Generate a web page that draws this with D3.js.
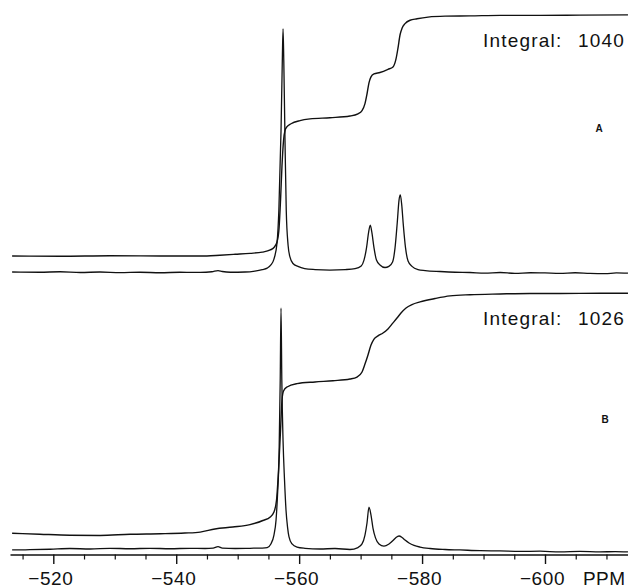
<!DOCTYPE html>
<html>
<head>
<meta charset="utf-8">
<script src="https://cdn.jsdelivr.net/npm/d3@7"></script>
<style>
  html, body { margin: 0; padding: 0; background: #fff; }
  #chart { width: 628px; height: 588px; }
  text { font-family: "Liberation Sans", Arial, sans-serif; fill: #111; }
</style>
</head>
<body>
<div id="chart"></div>
<script>
'use strict';

// ppm axis
const MAJOR_TICKS = [-520, -540, -560, -580, -600];
const MINOR_TICKS = [-515, -525, -530, -535, -545, -550, -555, -565, -570, -575, -585, -590, -595, -605, -610];

// [ppm, intensity], main peak = 100
const spectrumA = [
  [-513.3, 0.0], [-517.8, -0.1], [-521.1, 0.1], [-524.4, -0.2], [-527.6, 0.0], [-530.9, -0.25],
  [-534.1, -0.1], [-537.4, -0.3], [-540.6, -0.1], [-543.9, -0.15], [-545.8, 0.1], [-546.8, 0.6],
  [-547.5, 0.2], [-548.8, -0.1], [-551.2, 0.0], [-552.8, 0.4], [-554.0, 1.0], [-554.8, 1.6],
  [-555.4, 2.9], [-555.9, 5.3], [-556.4, 12], [-556.7, 25.5], [-557.05, 58], [-557.26, 87],
  [-557.38, 100], [-557.5, 87], [-557.7, 54], [-557.9, 25.5], [-558.2, 11], [-558.5, 6.2],
  [-559.0, 3.5], [-559.8, 2.3], [-560.9, 1.4], [-562.6, 1.0], [-565.0, 0.8], [-567.5, 1.0],
  [-569.1, 1.4], [-570.1, 2.5], [-570.55, 4.9], [-570.96, 9.9], [-571.28, 16], [-571.57, 19.3],
  [-571.85, 16], [-572.18, 9.9], [-572.58, 4.9], [-573.15, 2.9], [-573.97, 1.85], [-574.6, 2.3],
  [-575.2, 4.1], [-575.6, 9.9], [-575.97, 20.6], [-576.25, 29.6], [-576.46, 31.7], [-576.69, 27.6],
  [-576.95, 19.3], [-577.31, 9.9], [-577.72, 4.5], [-578.36, 2.3], [-579.34, 1.0], [-580.5, 0.6],
  [-582.9, 0.2], [-585.4, -0.1], [-587.8, -0.2], [-590.2, -0.5], [-592.7, -0.2], [-595.1, -0.6],
  [-597.6, -0.3], [-600.0, -0.4], [-602.4, -0.6], [-604.9, -0.3], [-607.3, -0.6], [-609.8, -0.7],
  [-611.6, -0.4], [-613.5, -0.5],
];

const integralA = [
  [-513.3, 0.0], [-521.1, -0.1], [-529.2, 0.1], [-537.4, 0.0], [-545.0, 0.0], [-547.1, 0.3],
  [-549.6, 0.7], [-552.0, 1.1], [-554.0, 1.6], [-555.3, 2.5], [-555.9, 3.5], [-556.4, 5.8],
  [-556.73, 11.5], [-556.97, 23], [-557.21, 37.4], [-557.46, 47.7], [-557.7, 51.9], [-558.03, 53.5],
  [-558.68, 54.7], [-560.14, 56], [-561.77, 56.7], [-565.02, 57.2], [-568.27, 57.9], [-569.57, 58.8],
  [-570.23, 60.1], [-570.71, 63], [-571.04, 67], [-571.36, 71.6], [-571.69, 74.1], [-572.18, 75.3],
  [-573.15, 75.9], [-574.45, 77.2], [-575.27, 78.2], [-575.76, 81.5], [-576.08, 86], [-576.41, 91.4],
  [-576.74, 94.2], [-577.23, 96.1], [-578.04, 97.5], [-579.18, 98.1], [-580.97, 98.8], [-583.74, 99.2],
  [-587.8, 99.3], [-592.7, 99.5], [-599.2, 99.5], [-605.7, 99.6], [-613.5, 99.7],
];

const spectrumB = [
  [-513.3, -0.4], [-516.2, -0.3], [-519.5, -0.1], [-522.7, 0.2], [-526.0, 0.0], [-529.2, 0.3],
  [-532.5, 0.1], [-535.7, 0.3], [-539.0, 0.1], [-542.2, 0.3], [-544.7, 0.2], [-546.0, 0.4],
  [-546.8, 1.0], [-547.5, 0.4], [-549.6, 0.2], [-552.0, 0.3], [-554.0, 0.4], [-554.8, 0.6],
  [-555.4, 2.1], [-555.9, 5.8], [-556.24, 12], [-556.48, 22.4], [-556.73, 39], [-556.92, 70],
  [-557.05, 100], [-557.18, 70], [-557.38, 45], [-557.62, 28.6], [-557.86, 16.2], [-558.11, 9.1],
  [-558.35, 5.0], [-558.84, 2.1], [-559.65, 0.8], [-560.95, 0.3], [-563.39, 0.0], [-565.83, 0.2],
  [-568.27, -0.2], [-569.57, 0.6], [-570.23, 2.1], [-570.71, 5.8], [-571.04, 10.8], [-571.36, 17.4],
  [-571.69, 14.1], [-572.01, 8.7], [-572.42, 4.6], [-572.99, 2.1], [-573.8, 1.2], [-574.62, 2.1],
  [-575.27, 3.5], [-575.76, 4.8], [-576.25, 5.4], [-576.74, 4.8], [-577.23, 3.7], [-577.88, 2.5],
  [-578.69, 1.5], [-579.67, 0.8], [-581.3, 0.2], [-583.74, -0.2], [-586.17, -0.4], [-589.42, -0.7],
  [-592.68, -0.8], [-595.93, -1.0], [-599.19, -0.9], [-602.44, -1.2], [-605.69, -1.0], [-608.95, -1.2],
  [-611.39, -1.1], [-613.5, -1.2],
];

const integralB = [
  [-513.3, 0.3], [-517.8, -0.1], [-522.7, -0.5], [-527.6, -0.6], [-532.5, -0.1], [-537.4, 0.1],
  [-541.4, 0.4], [-543.9, 0.8], [-546.3, 2.1], [-549.2, 2.9], [-552.0, 3.9], [-554.1, 5.6],
  [-555.3, 7.1], [-555.9, 9.1], [-556.32, 14.1], [-556.65, 26.6], [-556.97, 43], [-557.21, 55.6],
  [-557.46, 59.3], [-558.03, 61], [-559.65, 62.4], [-562.58, 63.1], [-565.51, 63.6], [-568.27, 64.3],
  [-569.41, 65.1], [-570.23, 67.2], [-570.71, 70.5], [-571.2, 74.3], [-571.69, 78.4], [-572.18, 80.9],
  [-572.83, 82.2], [-573.64, 83.4], [-574.45, 85.1], [-575.27, 87.6], [-575.92, 89.6], [-576.57, 91.7],
  [-577.39, 93.8], [-578.36, 95.2], [-579.67, 96.3], [-582.1, 97.7], [-584.55, 98.8], [-587.8, 99.3],
  [-592.68, 99.6], [-597.56, 99.8], [-602.44, 99.8], [-608.95, 99.9], [-613.5, 99.9],
];

const PANELS = [
  { label: 'A', integralText: 'Integral:', integralValue: '1040', spectrum: spectrumA, integral: integralA,
    specRange: [272, 29], intRange: [256, 14.2], textY: 47, markX: 599, markY: 132 },
  { label: 'B', integralText: 'Integral:', integralValue: '1026', spectrum: spectrumB, integral: integralB,
    specRange: [549, 308], intRange: [534, 293], textY: 325, markX: 605, markY: 423 },
];

function drawChart() {
  const W = 628, H = 588;
  const svg = d3.select('#chart').append('svg')
    .attr('width', W)
    .attr('height', H);

  // -520 ppm sits at 53.3px, -600 ppm at 545px
  const x = d3.scaleLinear().domain([-520, -600]).range([53.3, 545]);

  const line = (yScale) => d3.line()
    .x(d => x(d[0]))
    .y(d => yScale(d[1]))
    .curve(d3.curveMonotoneX);

  PANELS.forEach(p => {
    const ySpec = d3.scaleLinear().domain([0, 100]).range(p.specRange);
    const yInt = d3.scaleLinear().domain([0, 100]).range(p.intRange);

    svg.append('path')
      .datum(p.spectrum)
      .attr('fill', 'none')
      .attr('stroke', '#111')
      .attr('stroke-width', 1.3)
      .attr('stroke-linejoin', 'round')
      .attr('d', line(ySpec));

    svg.append('path')
      .datum(p.integral)
      .attr('fill', 'none')
      .attr('stroke', '#111')
      .attr('stroke-width', 1.4)
      .attr('stroke-linejoin', 'round')
      .attr('d', line(yInt));

    const t = svg.append('text')
      .attr('x', 483)
      .attr('y', p.textY)
      .attr('font-size', '19px')
      .attr('letter-spacing', '1.2px');
    t.append('tspan').text(p.integralText);
    t.append('tspan').attr('x', 578).text(p.integralValue);

    svg.append('text')
      .attr('x', p.markX)
      .attr('y', p.markY)
      .attr('text-anchor', 'middle')
      .attr('font-size', '10px')
      .attr('font-weight', 'bold')
      .text(p.label);
  });

  // axis line runs across the full width
  const xAxisScale = x.copy().domain([x.invert(10), x.invert(628)]).range([10, 628]);
  const axisY = 554.5;

  const minor = svg.append('g')
    .attr('transform', `translate(0,${axisY})`)
    .call(d3.axisBottom(xAxisScale).tickValues(MINOR_TICKS).tickSize(5).tickSizeOuter(0).tickFormat(''));
  minor.select('.domain').attr('stroke', '#111').attr('stroke-width', 1.5);
  minor.selectAll('.tick line').attr('stroke', '#111').attr('stroke-width', 1.2);

  const major = svg.append('g')
    .attr('transform', `translate(0,${axisY})`)
    .call(d3.axisBottom(xAxisScale).tickValues(MAJOR_TICKS).tickSize(9.5).tickSizeOuter(0));
  major.select('.domain').remove();
  major.selectAll('.tick line').attr('stroke', '#111').attr('stroke-width', 1.4);
  major.selectAll('.tick text')
    .attr('y', 30)
    .attr('dy', null)
    .attr('dx', -3)
    .attr('font-size', '19px')
    .attr('letter-spacing', '0.6px')
    .attr('font-family', '"Liberation Sans", Arial, sans-serif')
    .attr('fill', '#111');

  svg.append('text')
    .attr('x', 583)
    .attr('y', axisY + 30)
    .attr('font-size', '19px')
    .attr('letter-spacing', '0.4px')
    .text('PPM');
}

drawChart();
</script>
</body>
</html>
